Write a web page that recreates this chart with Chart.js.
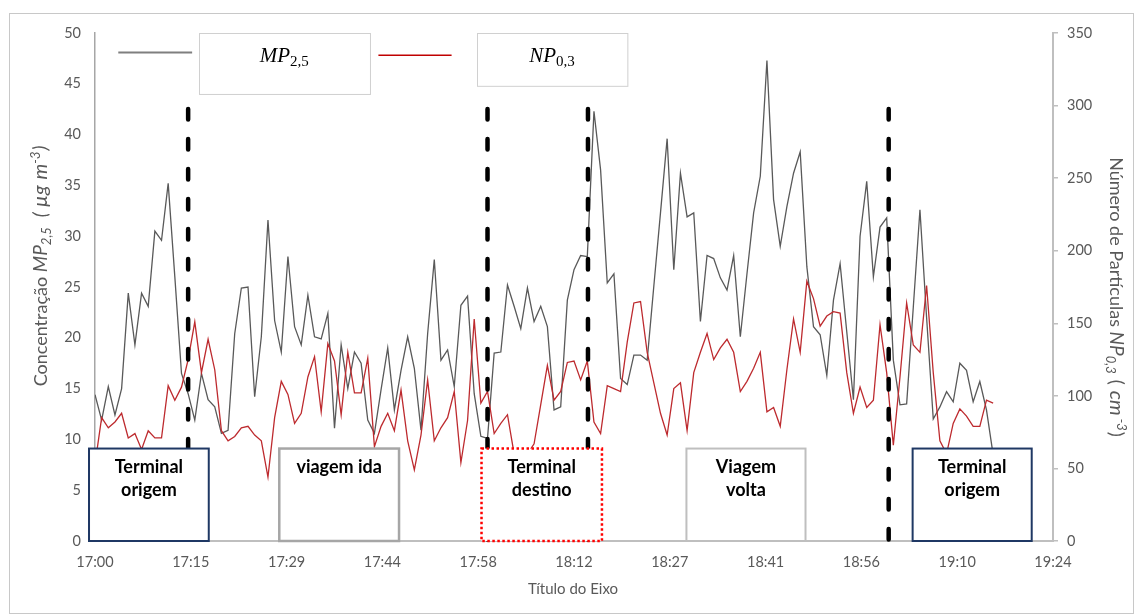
<!DOCTYPE html>
<html>
<head>
<meta charset="utf-8">
<script src="https://cdn.jsdelivr.net/npm/chart.js@4.4.1/dist/chart.umd.min.js"></script>
<style>
  html, body { margin: 0; padding: 0; background: #fff; }
  #wrap { width: 1135px; height: 615px; }
</style>
</head>
<body>
<div id="wrap"><canvas id="chart" width="1135" height="615"></canvas></div>
<script>
// one sample per minute starting 17:00
const mp25 = [
  14.4, 11.9, 15.2, 12.4, 15.0, 24.4, 19.3, 24.4, 23.1, 30.5,
  29.6, 35.2, 26.0, 16.5, 14.5, 11.9, 16.5, 13.9, 13.2, 10.6,
  10.9, 20.4, 24.9, 25.0, 14.2, 20.1, 31.6, 21.7, 18.6, 28.0,
  21.1, 19.3, 24.2, 20.1, 19.9, 22.4, 11.1, 19.3, 15.0, 18.6,
  17.5, 11.9, 10.6, 14.9, 19.0, 12.9, 16.8, 20.1, 17.0, 10.9,
  20.4, 27.7, 17.8, 18.8, 15.2, 23.2, 24.1, 14.5, 10.3, 10.1,
  18.5, 18.6, 25.2, 23.1, 20.9, 24.9, 21.6, 23.1, 21.1, 12.9,
  13.2, 23.7, 26.7, 28.1, 28.0, 42.3, 36.5, 25.4, 26.3, 16.0,
  15.4, 18.3, 18.3, 17.8, 25.1, 32.3, 39.6, 26.7, 36.2, 31.9,
  32.3, 21.6, 28.1, 27.8, 25.9, 24.7, 28.1, 20.1, 26.3, 32.3,
  35.9, 47.3, 33.6, 29.0, 32.9, 36.2, 38.3, 27.0, 21.1, 20.3,
  16.3, 23.7, 27.3, 20.6, 13.9, 30.0, 35.4, 26.0, 30.9, 31.8,
  17.8, 13.4, 13.5, 23.0, 32.6, 22.0, 12.0, 13.2, 14.7, 13.7,
  17.5, 16.8, 13.7, 15.7, 12.9, 8.5
];
const np03 = [
  53, 85, 78, 82, 88, 71, 74, 63, 76, 71,
  71, 107, 97, 106, 125, 151, 116, 139, 118, 76,
  69, 72, 78, 79, 73, 69, 44, 85, 110, 101,
  81, 88, 113, 127, 89, 136, 124, 87, 130, 102,
  102, 126, 65, 79, 88, 76, 104, 69, 49, 73,
  111, 69, 78, 85, 103, 54, 83, 153, 95, 103,
  74, 81, 87, 60, 53, 60, 67, 94, 121, 97,
  103, 123, 124, 111, 124, 82, 74, 107, 105, 103,
  137, 164, 165, 130, 109, 88, 73, 105, 109, 76,
  116, 130, 143, 125, 133, 139, 130, 103, 110, 119,
  130, 89, 92, 79, 118, 153, 130, 179, 167, 148,
  155, 158, 157, 116, 88, 106, 92, 97, 149, 116,
  66, 113, 164, 135, 130, 176, 116, 69, 60, 81,
  91, 86, 79, 79, 97, 95
];
const tickLabels = ["17:00", "17:15", "17:29", "17:44", "17:58", "18:12", "18:27", "18:41", "18:56", "19:10", "19:24"];

// phase markers (minutes after 17:00)
const phaseLines = [14.0, 59.0, 74.1, 119.3];
const phaseBoxes = [
  { from: -0.9, to: 17.1, text: ["Terminal", "origem"], kind: "navy" },
  { from: 27.7, to: 45.7, text: ["viagem ida"], kind: "gray" },
  { from: 58.1, to: 76.2, text: ["Terminal", "destino"], kind: "red" },
  { from: 88.9, to: 106.8, text: ["Viagem", "volta"], kind: "light" },
  { from: 122.9, to: 140.8, text: ["Terminal", "origem"], kind: "navy" }
];

const GRAY_TXT = "#595959";
const FONT = "Lato, 'Open Sans', sans-serif";

// draws text runs (mixed fonts, sub/superscripts) centred on x
function drawRich(ctx, runs, x, y) {
  let total = 0;
  runs.forEach(r => { ctx.font = r.font; r.w = ctx.measureText(r.t).width; total += r.w + (r.pad || 0); });
  let cx = x - total / 2;
  runs.forEach(r => {
    cx += r.pad || 0;
    ctx.font = r.font;
    ctx.fillText(r.t, cx, y + (r.dy || 0));
    cx += r.w;
  });
}

const decor = {
  id: "decor",
  beforeDraw(chart) {
    const ctx = chart.ctx;
    ctx.save();
    ctx.fillStyle = "#fff";
    ctx.fillRect(0, 0, chart.width, chart.height);
    ctx.strokeStyle = "#c8c8c8";
    ctx.lineWidth = 1;
    ctx.strokeRect(9.5, 13.5, 1124, 600);
    ctx.restore();
  },
  afterDatasetsDraw(chart) {
    const ctx = chart.ctx;
    const xs = chart.scales.x, ys = chart.scales.y;
    ctx.save();

    // dashed phase lines
    ctx.strokeStyle = "#000";
    ctx.lineWidth = 4.5;
    ctx.lineCap = "round";
    ctx.setLineDash([10.5, 19.5]);
    phaseLines.forEach(m => {
      const px = xs.getPixelForValue(m);
      ctx.beginPath();
      ctx.moveTo(px, ys.getPixelForValue(42.75) + 2.25);
      ctx.lineTo(px, ys.getPixelForValue(0));
      ctx.stroke();
    });
    ctx.setLineDash([]);
    ctx.lineCap = "butt";

    // phase boxes
    const styles = {
      navy: { c: "#1f3864", w: 2, d: [] },
      gray: { c: "#a6a6a6", w: 2.5, d: [] },
      red: { c: "#ff0000", w: 2.5, d: [2.5, 2.5] },
      light: { c: "#bfbfbf", w: 2, d: [] }
    };
    phaseBoxes.forEach(b => {
      const x0 = xs.getPixelForValue(b.from), x1 = xs.getPixelForValue(b.to);
      const y0 = ys.getPixelForValue(9.1), y1 = ys.getPixelForValue(0);
      const s = styles[b.kind];
      ctx.fillStyle = "#fff";
      ctx.fillRect(x0, y0, x1 - x0, y1 - y0);
      ctx.strokeStyle = s.c;
      ctx.lineWidth = s.w;
      ctx.setLineDash(s.d);
      ctx.strokeRect(x0, y0, x1 - x0, y1 - y0);
      ctx.setLineDash([]);
      ctx.fillStyle = "#000";
      ctx.font = "bold 18px " + FONT;
      ctx.textAlign = "center";
      ctx.textBaseline = "alphabetic";
      b.text.forEach((t, i) => ctx.fillText(t, (x0 + x1) / 2, y0 + 24 + i * 23));
    });

    // legend (series line + label box)
    const leg = [
      { l0: 3.5, l1: 14.6, ly: 48.07, color: "#7f7f7f", lw: 2, b0: 15.6, b1: 41.3, bb: 44.0, name: "MP", sub: "2,5" },
      { l0: 42.6, l1: 53.6, ly: 47.8, color: "#c00000", lw: 1.5, b0: 57.4, b1: 80.0, bb: 44.8, name: "NP", sub: "0,3" }
    ];
    leg.forEach(g => {
      ctx.strokeStyle = g.color;
      ctx.lineWidth = g.lw;
      ctx.beginPath();
      ctx.moveTo(xs.getPixelForValue(g.l0), ys.getPixelForValue(g.ly));
      ctx.lineTo(xs.getPixelForValue(g.l1), ys.getPixelForValue(g.ly));
      ctx.stroke();
      const bx0 = xs.getPixelForValue(g.b0), bx1 = xs.getPixelForValue(g.b1);
      const by0 = ys.getPixelForValue(50), by1 = ys.getPixelForValue(g.bb);
      ctx.fillStyle = "#fff";
      ctx.fillRect(bx0, by0, bx1 - bx0, by1 - by0);
      ctx.strokeStyle = "#d0d0d0";
      ctx.lineWidth = 1;
      ctx.strokeRect(Math.round(bx0) + 0.5, Math.round(by0) + 0.5, bx1 - bx0, by1 - by0);
      ctx.fillStyle = "#000";
      ctx.textAlign = "left";
      drawRich(ctx, [
        { t: g.name, font: "italic 21px 'Liberation Serif', serif" },
        { t: g.sub, font: "15px 'Liberation Serif', serif", dy: 4 }
      ], (bx0 + bx1) / 2, by0 + 29);
    });
    ctx.restore();
  },
  afterDraw(chart) {
    const ctx = chart.ctx;
    ctx.save();
    ctx.fillStyle = GRAY_TXT;
    ctx.textAlign = "left";
    ctx.textBaseline = "alphabetic";

    // x title
    drawRich(ctx, [{ t: "Título do Eixo", font: "15px " + FONT }], 573, 594);

    // left title
    ctx.save();
    ctx.translate(47, 266);
    ctx.rotate(-Math.PI / 2);
    drawRich(ctx, [
      { t: "Concentração ", font: "18px " + FONT },
      { t: "MP", font: "italic 19px " + FONT },
      { t: "2,5", font: "italic 13px " + FONT, dy: 4 },
      { t: "(", font: "italic 19px " + FONT, pad: 10 },
      { t: "µg", font: "italic 20px " + FONT, pad: 5 },
      { t: "m", font: "italic 20px " + FONT, pad: 6 },
      { t: "-3", font: "italic 13px " + FONT, dy: -7 },
      { t: ")", font: "italic 19px " + FONT, pad: 1 }
    ], 0, 0);
    ctx.restore();

    // right title
    ctx.save();
    ctx.translate(1110, 297);
    ctx.rotate(Math.PI / 2);
    drawRich(ctx, [
      { t: "Número de Partículas ", font: "18px " + FONT },
      { t: "NP", font: "italic 19px " + FONT },
      { t: "0,3", font: "italic 13px " + FONT, dy: 4 },
      { t: "(", font: "19px " + FONT, pad: 6 },
      { t: "cm", font: "italic 20px " + FONT, pad: 6 },
      { t: "-3", font: "italic 13px " + FONT, dy: -7, pad: 3 },
      { t: ")", font: "19px " + FONT, pad: 1 }
    ], 0, 0);
    ctx.restore();

    ctx.restore();
  }
};

const ctx = document.getElementById("chart").getContext("2d");
new Chart(ctx, {
  type: "line",
  data: {
    datasets: [
      {
        label: "MP2,5",
        data: mp25.map((v, i) => ({ x: i, y: v })),
        yAxisID: "y",
        borderColor: "#595959",
        borderWidth: 1.3,
        pointRadius: 0,
        tension: 0,
        order: 2
      },
      {
        label: "NP0,3",
        data: np03.map((v, i) => ({ x: i, y: v })),
        yAxisID: "y1",
        borderColor: "#bd2a2e",
        borderWidth: 1.3,
        pointRadius: 0,
        tension: 0,
        order: 1
      }
    ]
  },
  options: {
    responsive: false,
    animation: false,
    devicePixelRatio: 1,
    layout: { padding: { top: 33, left: 0, right: 0, bottom: 0 } },
    plugins: {
      legend: { display: false },
      tooltip: { enabled: false }
    },
    scales: {
      x: {
        type: "linear",
        min: 0,
        max: 144,
        afterBuildTicks: s => { s.ticks = tickLabels.map((_, i) => ({ value: i * 14.4 })); },
        ticks: {
          callback: (v, i) => tickLabels[i],
          color: GRAY_TXT,
          font: { family: FONT, size: 14.5 },
          padding: 13,
          maxRotation: 0,
          autoSkip: false
        },
        grid: { display: true, drawOnChartArea: false, drawTicks: false },
        border: { display: true, color: "#bfbfbf", width: 2 },
        afterFit: s => { s.height = 74; }
      },
      y: {
        position: "left",
        min: 0,
        max: 50,
        ticks: { stepSize: 5, color: GRAY_TXT, font: { family: FONT, size: 14.5 }, padding: 14 },
        grid: { display: true, drawOnChartArea: false, drawTicks: false },
        border: { display: true, color: "#a6a6a6", width: 1.5 },
        afterFit: s => { s.width = 95; }
      },
      y1: {
        position: "right",
        min: 0,
        max: 350,
        ticks: { stepSize: 50, color: GRAY_TXT, font: { family: FONT, size: 14.5 }, padding: 9 },
        grid: { display: true, drawOnChartArea: false, drawTicks: true, tickLength: 5, color: "#bfbfbf", lineWidth: 1.5 },
        border: { display: true, color: "#bfbfbf", width: 2 },
        afterFit: s => { s.width = 82; }
      }
    }
  },
  plugins: [decor]
});
</script>
</body>
</html>
